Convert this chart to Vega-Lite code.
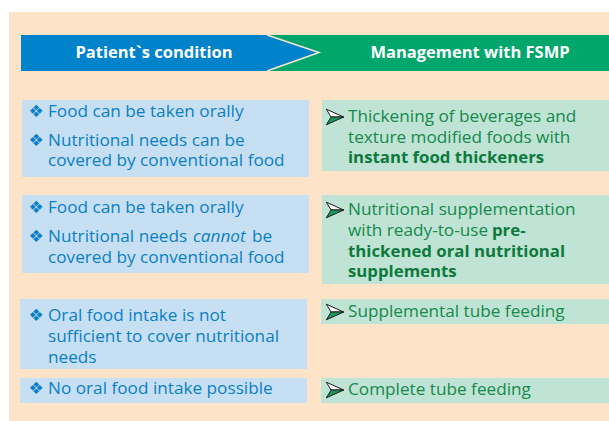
{
  "$schema": "https://vega.github.io/schema/vega-lite/v6.json",
  "width": 609,
  "height": 421,
  "autosize": {"type": "fit", "contains": "padding"},
  "padding": 0,
  "background": "white",
  "config": {"view": {"stroke": null}},
  "datasets": {
    "boxes": [
      {"kind": "bg", "x": 9, "x2": 609, "y": 12, "y2": 421},
      {"kind": "hdr", "x": 267, "x2": 609, "y": 35, "y2": 71},
      {"kind": "left", "x": 22, "x2": 309, "y": 100, "y2": 177},
      {"kind": "left", "x": 22, "x2": 309, "y": 195, "y2": 273},
      {"kind": "left", "x": 20, "x2": 307, "y": 299, "y2": 369},
      {"kind": "left", "x": 20, "x2": 307, "y": 378, "y2": 403},
      {"kind": "right", "x": 322, "x2": 609, "y": 100, "y2": 171},
      {"kind": "right", "x": 322, "x2": 609, "y": 195, "y2": 284},
      {"kind": "right", "x": 321, "x2": 609, "y": 299, "y2": 324},
      {"kind": "right", "x": 321, "x2": 609, "y": 378, "y2": 403}
    ],
    "chevron": [
      {"x": 21, "y": 35, "y2": 71},
      {"x": 267, "y": 35, "y2": 71},
      {"x": 319, "y": 52.5, "y2": 53}
    ],
    "edge": [
      {"x": 267, "y": 35, "o": 0},
      {"x": 319, "y": 52.5, "o": 1},
      {"x": 267, "y": 71, "o": 2}
    ],
    "texts": [
      {"role": "header", "x": 154, "y": 52.5, "text": "Patient`s condition"},
      {"role": "header", "x": 470, "y": 52.5, "text": "Management with FSMP"},
      {"role": "left", "x": 48, "y": 112, "text": "Food can be taken orally"},
      {"role": "left", "x": 48, "y": 141, "text": "Nutritional needs can be"},
      {"role": "left", "x": 48, "y": 160.5, "text": "covered by conventional food"},
      {"role": "left", "x": 48, "y": 208, "text": "Food can be taken orally"},
      {"role": "left", "x": 48, "y": 237, "text": "Nutritional needs"},
      {"role": "leftItalic", "x": 193, "y": 237, "text": "cannot"},
      {"role": "left", "x": 252, "y": 237, "text": "be"},
      {"role": "left", "x": 48, "y": 258, "text": "covered by conventional food"},
      {"role": "left", "x": 48, "y": 316, "text": "Oral food intake is not"},
      {"role": "left", "x": 48, "y": 337, "text": "sufficient to cover nutritional"},
      {"role": "left", "x": 48, "y": 358, "text": "needs"},
      {"role": "left", "x": 48, "y": 389, "text": "No oral food intake possible"},
      {"role": "right", "x": 348, "y": 117, "text": "Thickening of beverages and"},
      {"role": "right", "x": 348, "y": 138, "text": "texture modified foods with"},
      {"role": "rightBold", "x": 348, "y": 158, "text": "instant food thickeners"},
      {"role": "right", "x": 348, "y": 210, "text": "Nutritional supplementation"},
      {"role": "right", "x": 348, "y": 231, "text": "with ready-to-use"},
      {"role": "rightBold", "x": 492, "y": 231, "text": "pre-"},
      {"role": "rightBold", "x": 348, "y": 252, "text": "thickened oral nutritional"},
      {"role": "rightBold", "x": 348, "y": 272, "text": "supplements"},
      {"role": "right", "x": 348, "y": 312, "text": "Supplemental tube feeding"},
      {"role": "right", "x": 348, "y": 390, "text": "Complete tube feeding"}
    ],
    "bullets": [
      {"type": "diamond", "x": 36, "y": 112},
      {"type": "diamond", "x": 36, "y": 141},
      {"type": "diamond", "x": 36, "y": 208},
      {"type": "diamond", "x": 36, "y": 237},
      {"type": "diamond", "x": 36, "y": 316},
      {"type": "diamond", "x": 36, "y": 389},
      {"type": "arrow", "x": 335, "y": 117},
      {"type": "arrow", "x": 335, "y": 210},
      {"type": "arrow", "x": 335, "y": 312},
      {"type": "arrow", "x": 335, "y": 390}
    ]
  },
  "encoding": {
    "x": {"field": "x", "type": "quantitative", "scale": {"domain": [0, 609], "nice": false, "zero": false}, "axis": null},
    "y": {"field": "y", "type": "quantitative", "scale": {"domain": [0, 421], "nice": false, "zero": false, "reverse": true}, "axis": null}
  },
  "layer": [
    {
      "data": {"name": "boxes"},
      "mark": {"type": "rect"},
      "encoding": {
        "x2": {"field": "x2"},
        "y2": {"field": "y2"},
        "color": {"field": "kind", "type": "nominal", "legend": null,
          "scale": {"domain": ["bg", "hdr", "left", "right"], "range": ["#fde4c9", "#00a66c", "#c6dff3", "#bfe3d4"]}}
      }
    },
    {
      "data": {"name": "chevron"},
      "mark": {"type": "area", "color": "#0083ca", "interpolate": "linear", "orient": "vertical", "opacity": 1},
      "encoding": {
        "y": {"field": "y", "type": "quantitative", "stack": null},
        "y2": {"field": "y2"}
      }
    },
    {
      "data": {"name": "edge"},
      "mark": {"type": "line", "color": "#fbe6cf", "strokeWidth": 1.5},
      "encoding": {"order": {"field": "o", "type": "quantitative"}}
    },
    {
      "data": {"name": "texts"},
      "transform": [{"filter": "datum.role === 'header'"}],
      "mark": {"type": "text", "font": "Open Sans", "fontSize": 16.5, "fontWeight": "bold", "color": "white", "align": "center", "baseline": "middle"},
      "encoding": {"text": {"field": "text"}}
    },
    {
      "data": {"name": "texts"},
      "transform": [{"filter": "datum.role === 'left'"}],
      "mark": {"type": "text", "font": "Open Sans", "fontSize": 17.2, "color": "#0b7fc4", "align": "left", "baseline": "middle"},
      "encoding": {"text": {"field": "text"}}
    },
    {
      "data": {"name": "texts"},
      "transform": [{"filter": "datum.role === 'leftItalic'"}],
      "mark": {"type": "text", "font": "Open Sans", "fontSize": 17.2, "fontStyle": "italic", "color": "#0b7fc4", "align": "left", "baseline": "middle"},
      "encoding": {"text": {"field": "text"}}
    },
    {
      "data": {"name": "texts"},
      "transform": [{"filter": "datum.role === 'right'"}],
      "mark": {"type": "text", "font": "Open Sans", "fontSize": 17.2, "color": "#16894c", "align": "left", "baseline": "middle"},
      "encoding": {"text": {"field": "text"}}
    },
    {
      "data": {"name": "texts"},
      "transform": [{"filter": "datum.role === 'rightBold'"}],
      "mark": {"type": "text", "font": "Open Sans", "fontSize": 16.8, "fontWeight": "bold", "color": "#0d7a3d", "align": "left", "baseline": "middle"},
      "encoding": {"text": {"field": "text"}}
    },
    {
      "data": {"name": "bullets"},
      "transform": [{"filter": "datum.type === 'diamond'"}],
      "mark": {"type": "text", "text": "❖", "font": "DejaVu Sans", "fontSize": 17, "color": "#0b7fc4", "align": "center", "baseline": "middle"}
    },
    {
      "data": {"name": "bullets"},
      "transform": [{"filter": "datum.type === 'arrow'"}],
      "mark": {"type": "point", "shape": "M -1 -0.9 L 1 0 L -0.45 0 Z", "filled": true, "fill": "white", "stroke": "#1a1a1a", "strokeWidth": 1, "size": 300, "opacity": 1}
    },
    {
      "data": {"name": "bullets"},
      "transform": [{"filter": "datum.type === 'arrow'"}],
      "mark": {"type": "point", "shape": "M -0.45 0 L 1 0 L -1 0.9 Z", "filled": true, "fill": "#1a9a5c", "stroke": "#1a1a1a", "strokeWidth": 1, "size": 300, "opacity": 1}
    }
  ]
}
